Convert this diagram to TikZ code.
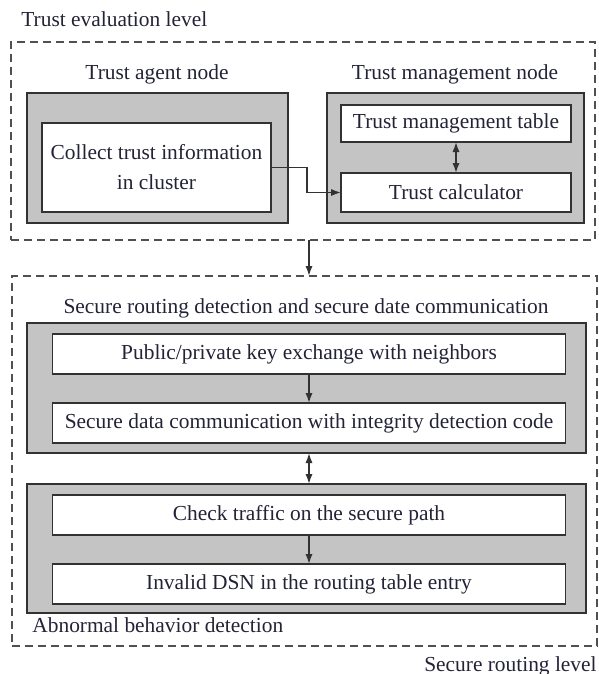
\documentclass[tikz,border=0pt]{standalone}
\usepackage{fontspec}
\setmainfont{Liberation Serif}
\usetikzlibrary{arrows.meta, positioning}
\definecolor{panelgray}{RGB}{196,196,196}
\definecolor{edgegray}{RGB}{50,50,50}
\definecolor{dashgray}{RGB}{80,80,80}
\definecolor{inkcolor}{RGB}{35,35,55}

\begin{document}
\begin{tikzpicture}[
    x=0.5pt, y=-0.5pt,
    font=\fontsize{10.7}{13}\selectfont,
    level/.style={
        rectangle,
        draw=dashgray,
        line width=0.75pt,
        dash pattern=on 4pt off 2.5pt,
        inner sep=0pt, outer sep=0pt
    },
    panel/.style={
        rectangle,
        draw=edgegray,
        fill=panelgray,
        line width=1pt,
        inner sep=0pt, outer sep=0pt
    },
    box/.style={
        rectangle,
        draw=edgegray,
        fill=white,
        line width=0.75pt,
        align=center,
        text=inkcolor,
        inner sep=0pt, outer sep=0pt
    },
    widebox/.style={box, minimum width=256.5pt, minimum height=20pt},
    caption/.style={inner sep=0pt, text=inkcolor},
    arrow/.style={-{Latex[length=5pt,width=3.6pt]}, line width=0.75pt, draw=edgegray},
    twoway/.style={{Latex[length=5pt,width=3.6pt]}-{Latex[length=5pt,width=3.6pt]}, line width=0.75pt, draw=edgegray}
]
\useasboundingbox (0,0) rectangle (599,674);

% trust evaluation level
\node (eval) [level, minimum width=292pt, minimum height=99pt] at (303,141) {};
\node (agent) [panel, minimum width=130.5pt, minimum height=65pt] at (157.5,158) {};
\node (collect) [box, minimum width=114.5pt, minimum height=44.5pt] at (156.5,167.5) {Collect trust information\\[2pt]in cluster};
\node (manager) [panel, minimum width=128.5pt, minimum height=65pt] at (455.5,158) {};
\node (table) [box, minimum width=115pt, minimum height=18.5pt] at (456,123.5) {Trust management table};
\node (calc) [box, minimum width=115pt, minimum height=19.5pt] at (456,192.5) {Trust calculator};

\node (evallabel) [caption, anchor=base west] at (21,27) {Trust evaluation level};
\node (agentlabel) [caption, anchor=base] at (157,80) {Trust agent node};
\node (managerlabel) [caption, anchor=base] at (455,80) {Trust management node};

% secure routing level
\node (routing) [level, minimum width=292.5pt, minimum height=185pt] at (304.5,461) {};
\node (secure) [panel, minimum width=279.5pt, minimum height=65pt] at (306.5,388) {};
\node (keyex) [widebox] at (309,354) {Public/private key exchange with neighbors};
\node (secdata) [widebox, below=14.5pt of keyex] {Secure data communication with integrity detection code};
\node (abnormal) [panel, minimum width=279.5pt, minimum height=64.5pt] at (306.5,548.5) {};
\node (traffic) [widebox] at (309,515) {Check traffic on the secure path};
\node (dsn) [widebox, below=14.5pt of traffic] {Invalid DSN in the routing table entry};

\node (routinglabel) [caption, anchor=base] at (306,313) {Secure routing detection and secure date communication};
\node (abnormallabel) [caption, anchor=base west] at (32,632) {Abnormal behavior detection};
\node (levellabel) [caption, anchor=base east] at (597,671) {Secure routing level};

\draw [arrow] (collect.east) -- ++(36,0) |- (calc.west);
\draw [twoway] (table) -- (calc);
\draw [arrow] (eval.south -| keyex.north) -- (routing.north -| keyex.north);
\draw [arrow] (keyex) -- (secdata);
\draw [twoway] (secure.south -| keyex.south) -- (abnormal.north -| keyex.north);
\draw [arrow] (traffic) -- (dsn);

\end{tikzpicture}
\end{document}
